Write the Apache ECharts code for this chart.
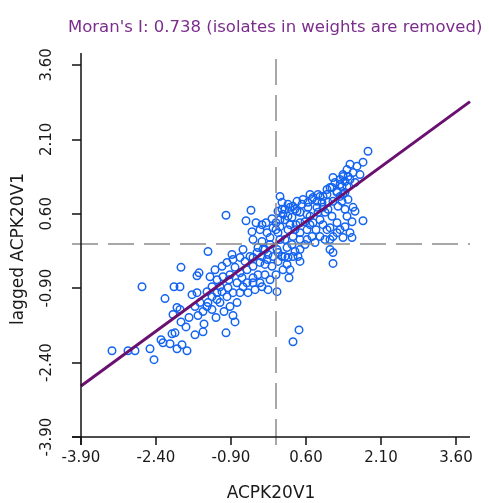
<!DOCTYPE html>
<html>
<head>
<meta charset="utf-8">
<script src="https://cdn.jsdelivr.net/npm/echarts@6/dist/echarts.min.js"></script>
<style>html,body{margin:0;padding:0;background:#fff;}#c{width:489px;height:503px;}</style>
</head>
<body>
<div id="c"></div>
<script>
const titleText = "Moran's I: 0.738 (isolates in weights are removed)";
const xName = 'ACPK20V1';
const yName = 'lagged ACPK20V1';
const tickValues = [-3.9, -2.4, -0.9, 0.6, 2.1, 3.6];
const xRange = [-4.08, 3.88];
const yRange = [-4.06, 3.84];
const axisAt = -3.9;
const meanX = 0, meanY = 0;
const regX = [-3.9, 3.88];
const regY = [-2.87, 2.86];

const xVals = [
 -3.28,-2.96,-2.82,-2.68,-2.52,-2.44,-2.30,-2.26,-2.22,-2.12,
 -2.08,-2.02,-2.06,-2.04,-1.92,-1.98,-1.92,-1.90,-1.98,-1.88,
 -1.78,-1.90,-1.80,-1.68,-1.58,-1.62,-1.58,-1.54,-1.56,-1.44,
 -1.46,-1.62,-1.52,-1.38,-1.28,-1.18,-1.12,-1.28,-1.18,-1.36,
 -1.38,-1.28,-1.12,-0.98,-0.86,-0.72,-1.36,-1.22,-1.08,-0.98,
 -0.88,-0.86,-1.18,-1.06,-0.94,-1.00,-0.50,-0.60,-1.00,-0.86,
 -0.82,-0.56,-0.58,-0.46,-0.32,-0.28,-0.16,0.02,-0.78,-0.66,
 -0.72,-0.58,-0.46,-0.52,-0.38,-0.26,-0.32,-0.18,-0.06,-0.48,
 -0.32,-0.18,-0.06,-0.46,-0.28,-0.12,-0.36,-0.46,-0.16,-0.08,
 -0.22,-0.46,-1.32,0.26,0.34,0.46,0.08,0.12,0.18,0.08,
 0.24,0.34,0.24,0.42,0.38,0.48,0.62,0.32,0.48,0.18,
 0.08,0.24,0.38,0.48,0.34,0.48,0.62,0.18,0.08,0.02,
 0.12,0.24,0.34,0.48,0.38,0.64,0.54,0.74,0.88,1.02,
 1.08,1.22,1.34,1.44,1.14,1.28,1.42,1.34,1.48,1.58,
 1.42,1.54,1.68,1.48,1.62,1.74,1.84,1.54,1.74,1.42,
 1.52,1.38,1.48,1.28,1.14,1.34,1.52,1.02,0.88,1.08,
 1.22,1.12,0.98,0.88,0.74,0.62,0.72,1.08,1.14,1.14,
 1.34,1.44,1.28,1.38,1.18,1.32,1.12,1.02,1.22,1.38,
 1.28,0.94,0.84,0.68,0.72,0.82,0.92,1.04,1.14,1.32,
 1.24,1.38,1.58,0.64,0.52,0.28,0.12,0.42,0.82,0.94,
 1.04,0.68,0.80,0.94,1.08,1.22,0.98,0.78,0.58,0.32,
 0.22,0.58,0.40,0.28,0.68,0.84,0.04,0.14,0.04,0.44,
 0.48,0.18,0.04,0.04,0.22,0.28,0.14,0.00,-0.28,-0.40,
 -0.20,-0.08,0.00,0.00,-0.12,-0.22,-0.28,-0.62,-0.72,-0.66,
 -0.82,-0.92,-0.68,-0.36,-0.22,-0.12,-0.42,-0.96,-1.08,-0.78,
 -0.92,-1.04,-1.20,-1.46,-1.74
];
const yVals = [
 -2.16,-2.16,-2.16,-0.87,-2.12,-2.34,-1.94,-2.00,-1.11,-2.02,
 -1.82,-1.80,-1.43,-0.87,-0.87,-1.29,-1.33,-0.48,-2.12,-2.04,
 -2.16,-1.58,-1.68,-1.03,-0.99,-1.84,-0.65,-0.59,-1.45,-1.62,
 -1.78,-1.27,-1.19,-0.97,-0.87,-0.99,-0.87,-1.07,-1.13,-1.19,
 -1.27,-1.33,-1.19,-1.07,-0.99,-0.99,-0.16,-0.53,-0.46,-0.38,
 -0.22,-0.32,-0.73,-0.67,-0.73,0.57,0.67,0.46,-1.80,-1.45,
 -1.58,-0.99,-0.79,-0.79,-0.79,-0.87,-0.93,-0.97,-0.79,-0.87,
 -0.59,-0.53,-0.46,-0.26,-0.18,-0.12,-0.38,-0.32,-0.26,0.24,
 0.28,0.22,0.32,0.08,0.04,0.12,-0.08,-0.28,-0.22,-0.46,
 -0.42,-0.69,-0.67,-0.69,-1.98,-1.74,0.95,0.83,0.69,0.48,
 0.55,0.75,0.79,0.85,0.69,0.63,0.59,0.53,0.42,0.48,
 0.34,0.28,0.28,0.22,0.14,0.08,0.08,0.08,0.08,-0.12,
 -0.26,-0.28,-0.26,-0.36,-0.16,0.83,0.89,0.93,0.95,0.99,
 1.13,1.03,0.99,0.89,1.33,1.19,1.15,1.35,1.29,1.23,
 1.49,1.43,1.39,1.60,1.56,1.64,1.86,0.73,0.46,0.55,
 0.44,0.34,0.22,0.28,0.14,0.12,0.12,0.28,0.14,0.08,
 0.42,0.55,0.63,0.48,0.42,0.28,0.14,-0.12,-0.18,-0.40,
 1.39,1.35,1.29,1.25,1.23,1.15,1.13,1.09,1.05,1.03,
 0.95,0.95,0.99,0.99,0.89,0.85,0.83,0.83,0.85,0.85,
 0.75,0.69,0.65,0.73,0.79,0.73,0.69,0.65,0.73,0.73,
 0.69,0.38,0.28,0.38,0.32,0.22,0.08,0.02,-0.02,-0.02,
 -0.08,0.44,0.38,0.38,0.55,0.63,0.22,0.59,0.65,-0.26,
 -0.12,-0.26,-0.18,-0.36,-0.42,-0.53,-0.53,-0.63,0.38,0.42,
 0.42,0.50,0.42,0.28,-0.02,-0.12,-0.26,-0.36,-0.28,-0.12,
 -0.48,-0.63,-0.69,-0.63,-0.63,-0.73,-0.93,-0.89,-0.97,-1.19,
 -1.27,-1.37,-1.49,-1.37,-1.49
];

const points = xVals.map((x, i) => [x, yVals[i]]);
const fontFamily = 'DejaVu Sans';
const textColor = '#1a1a1a';

const chart = echarts.init(document.getElementById('c'), null, {renderer: 'canvas'});
chart.setOption({
  animation: false,
  backgroundColor: '#ffffff',
  title: {
    text: titleText,
    left: 63,
    top: 14,
    textStyle: {color: '#7b2c8c', fontSize: 16.5, fontWeight: 'normal', fontFamily: fontFamily}
  },
  grid: {left: 72, right: 19, top: 53, bottom: 58, containLabel: false, outerBoundsMode: 'none'},
  xAxis: {
    type: 'value',
    min: xRange[0], max: xRange[1],
    name: xName,
    nameLocation: 'middle',
    nameGap: 40,
    nameTextStyle: {color: textColor, fontSize: 17, fontFamily: fontFamily},
    axisLine: {show: false, onZero: false},
    axisTick: {show: true, inside: true, length: 8, customValues: tickValues, lineStyle: {color: '#111', width: 1.5}},
    axisLabel: {show: true, customValues: tickValues, margin: 6, color: textColor, fontSize: 15, fontFamily: fontFamily,
      formatter: v => v.toFixed(2)},
    splitLine: {show: false}
  },
  yAxis: {
    type: 'value',
    min: yRange[0], max: yRange[1],
    name: yName,
    nameLocation: 'middle',
    nameGap: 45,
    nameRotate: 90,
    nameTextStyle: {color: textColor, fontSize: 17, fontFamily: fontFamily},
    axisLine: {show: false, onZero: false},
    axisTick: {show: true, inside: true, length: 9, customValues: tickValues, lineStyle: {color: '#111', width: 1.5}},
    axisLabel: {show: true, customValues: tickValues, margin: 17, rotate: 90, color: textColor, fontSize: 15, fontFamily: fontFamily,
      formatter: v => v.toFixed(2)},
    splitLine: {show: false}
  },
  series: [
    {
      type: 'scatter',
      data: [],
      z: 1,
      silent: true,
      markLine: {
        silent: true,
        symbol: 'none',
        animation: false,
        label: {show: false},
        emphasis: {disabled: true},
        data: [
          {xAxis: meanX, lineStyle: {color: '#8a8a8a', width: 1.5, type: [26, 10]}},
          {yAxis: meanY, lineStyle: {color: '#8a8a8a', width: 1.5, type: [26, 10]}},
          {xAxis: axisAt, lineStyle: {color: '#111', width: 1.5, type: 'solid'}},
          {yAxis: axisAt, lineStyle: {color: '#111', width: 1.5, type: 'solid'}}
        ]
      }
    },
    {
      type: 'scatter',
      data: points,
      z: 2,
      symbol: 'circle',
      symbolSize: 7.5,
      itemStyle: {color: 'rgba(255,255,255,0)', borderColor: '#1464f0', borderWidth: 1.5, opacity: 1},
      silent: true
    },
    {
      type: 'line',
      data: regX.map((x, i) => [x, regY[i]]),
      z: 3,
      symbol: 'none',
      silent: true,
      lineStyle: {color: '#6a1070', width: 3}
    }
  ]
});
</script>
</body>
</html>
